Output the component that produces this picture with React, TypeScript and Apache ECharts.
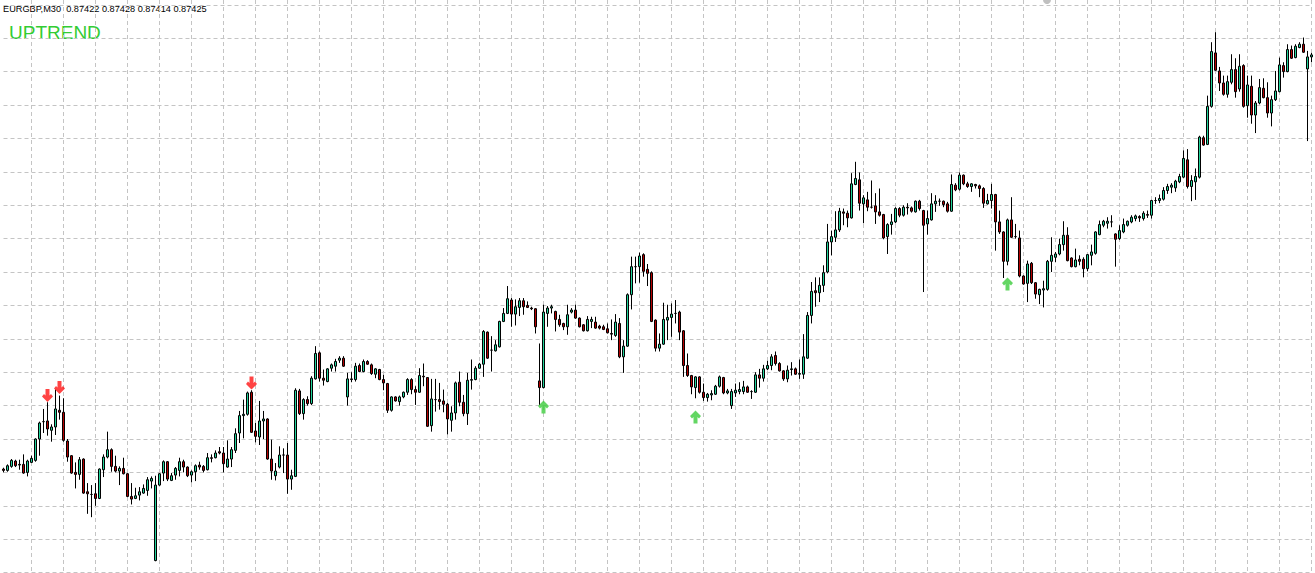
import React, { useEffect, useRef } from "react";
import * as echarts from "echarts";

// EURGBP M30 candles, prices in points (1 point = 0.00001)
const OPEN = [
  86805, 86803, 86809, 86817, 86812, 86812, 86800, 86815, 86818, 86850,
  86876, 86877, 86863, 86868, 86893, 86890, 86847, 86825, 86800, 86797,
  86820, 86771, 86767, 86768, 86761, 86804, 86823, 86834, 86809, 86802,
  86806, 86798, 86764, 86761, 86766, 86769, 86773, 86787, 86668, 86781,
  86799, 86816, 86788, 86796, 86803, 86816, 86808, 86796, 86801, 86811,
  86809, 86804, 86822, 86822, 86831, 86829, 86808, 86820, 86833, 86859,
  86885, 86887, 86920, 86862, 86853, 86877, 86880, 86820, 86795, 86808,
  86826, 86826, 86790, 86794, 86922, 86888, 86909, 86903, 86940, 86979,
  86941, 86936, 86956, 86959, 86968, 86971, 86913, 86940, 86939, 86960,
  86951, 86966, 86961, 86947, 86954, 86939, 86933, 86893, 86913, 86906,
  86913, 86920, 86939, 86924, 86920, 86944, 86942, 86870, 86909, 86909,
  86907, 86902, 86878, 86889, 86935, 86905, 86888, 86938, 86939, 86956,
  86962, 87010, 86983, 86982, 86988, 87026, 87038, 87058, 87037, 87047,
  87057, 87050, 87046, 87045, 86937, 86927, 87038, 87046, 87041, 87029,
  87023, 87018, 87040, 87043, 87031, 87021, 87012, 87026, 87025, 87019,
  87018, 87015, 87008, 87005, 87023, 86973, 86989, 87066, 87108, 87108,
  87126, 87104, 87099, 87028, 86986, 86992, 87028, 87032, 87038, 87040,
  87012, 86960, 86945, 86927, 86943, 86920, 86912, 86916, 86917, 86929,
  86942, 86919, 86900, 86919, 86921, 86921, 86928, 86921, 86920, 86946,
  86941, 86955, 86960, 86975, 86963, 86952, 86940, 86954, 86955, 86947,
  86947, 86971, 87035, 87072, 87069, 87080, 87100, 87145, 87152, 87163,
  87190, 87188, 87181, 87231, 87238, 87202, 87208, 87197, 87199, 87190,
  87186, 87153, 87171, 87175, 87195, 87185, 87197, 87196, 87190, 87206,
  87192, 87172, 87178, 87202, 87206, 87206, 87202, 87191, 87230, 87224,
  87245, 87232, 87228, 87231, 87229, 87225, 87202, 87207, 87216, 87175,
  87160, 87116, 87178, 87153, 87151, 87094, 87083, 87113, 87084, 87066,
  87073, 87074, 87116, 87122, 87127, 87141, 87155, 87121, 87108, 87119,
  87119, 87105, 87125, 87128, 87156, 87170, 87173, 87175, 87157, 87150,
  87160, 87170, 87175, 87180, 87183, 87180, 87186, 87185, 87207, 87207,
  87209, 87222, 87227, 87226, 87235, 87242, 87268, 87228, 87235, 87242,
  87301, 87291, 87348, 87428, 87401, 87383, 87366, 87384, 87403, 87374,
  87409, 87349, 87378, 87335, 87353, 87375, 87361, 87338, 87358, 87370,
  87409, 87400, 87433, 87421, 87436, 87441, 87404, 87422,
];
const CLOSE = [
  86803, 86810, 86818, 86810, 86811, 86799, 86817, 86821, 86850, 86874,
  86876, 86865, 86868, 86895, 86890, 86848, 86823, 86799, 86797, 86819,
  86769, 86768, 86767, 86761, 86805, 86823, 86834, 86809, 86802, 86806,
  86798, 86764, 86760, 86765, 86771, 86776, 86789, 86791, 86781, 86798,
  86816, 86790, 86795, 86806, 86816, 86808, 86795, 86801, 86810, 86808,
  86803, 86822, 86821, 86829, 86829, 86813, 86820, 86834, 86858, 86885,
  86887, 86919, 86860, 86854, 86877, 86880, 86820, 86802, 86802, 86826,
  86826, 86790, 86795, 86923, 86888, 86909, 86903, 86941, 86978, 86941,
  86938, 86955, 86961, 86966, 86971, 86959, 86940, 86939, 86959, 86951,
  86966, 86962, 86948, 86955, 86939, 86934, 86893, 86913, 86907, 86913,
  86920, 86939, 86924, 86920, 86945, 86943, 86869, 86910, 86909, 86906,
  86902, 86880, 86889, 86934, 86905, 86888, 86938, 86939, 86956, 86962,
  87011, 86971, 86983, 86991, 87026, 87038, 87060, 87037, 87048, 87057,
  87048, 87047, 87045, 87018, 86927, 87040, 87046, 87048, 87029, 87021,
  87018, 87036, 87043, 87031, 87018, 87012, 87029, 87029, 87016, 87016,
  87014, 87009, 87007, 87025, 86973, 86989, 87066, 87108, 87108, 87124,
  87101, 87098, 87026, 86986, 86992, 87029, 87032, 87037, 87038, 87010,
  86960, 86945, 86928, 86943, 86920, 86912, 86917, 86918, 86929, 86943,
  86919, 86922, 86921, 86923, 86924, 86928, 86920, 86921, 86946, 86941,
  86955, 86960, 86973, 86963, 86952, 86940, 86953, 86955, 86947, 86948,
  86973, 87035, 87071, 87069, 87080, 87099, 87145, 87153, 87163, 87191,
  87188, 87181, 87232, 87240, 87203, 87211, 87197, 87197, 87190, 87185,
  87151, 87171, 87175, 87195, 87185, 87197, 87196, 87191, 87206, 87195,
  87170, 87180, 87202, 87206, 87206, 87201, 87191, 87231, 87223, 87245,
  87232, 87228, 87232, 87229, 87225, 87203, 87207, 87216, 87175, 87160,
  87116, 87178, 87152, 87153, 87094, 87082, 87112, 87084, 87067, 87074,
  87075, 87116, 87125, 87127, 87141, 87155, 87117, 87108, 87118, 87116,
  87105, 87126, 87130, 87160, 87171, 87176, 87176, 87175, 87149, 87162,
  87171, 87176, 87182, 87184, 87181, 87188, 87185, 87207, 87207, 87210,
  87222, 87228, 87230, 87236, 87243, 87270, 87228, 87237, 87243, 87302,
  87290, 87348, 87430, 87402, 87383, 87366, 87385, 87403, 87370, 87408,
  87348, 87380, 87335, 87353, 87376, 87361, 87338, 87358, 87371, 87410,
  87400, 87433, 87420, 87438, 87441, 87429, 87422, 87425,
];
const LOW = [
  86800, 86801, 86807, 86808, 86804, 86798, 86794, 86814, 86816, 86825,
  86859, 86855, 86846, 86856, 86879, 86846, 86816, 86798, 86776, 86789,
  86768, 86738, 86733, 86750, 86760, 86793, 86821, 86801, 86800, 86781,
  86797, 86763, 86752, 86760, 86758, 86768, 86765, 86776, 86667, 86780,
  86787, 86787, 86787, 86789, 86794, 86800, 86793, 86785, 86787, 86804,
  86800, 86803, 86815, 86821, 86827, 86800, 86807, 86808, 86829, 86844,
  86851, 86885, 86859, 86845, 86841, 86850, 86819, 86789, 86788, 86806,
  86799, 86768, 86774, 86793, 86886, 86879, 86900, 86901, 86939, 86936,
  86930, 86935, 86951, 86951, 86964, 86958, 86900, 86935, 86936, 86950,
  86950, 86961, 86946, 86941, 86938, 86923, 86889, 86891, 86906, 86900,
  86911, 86916, 86917, 86901, 86919, 86929, 86868, 86861, 86891, 86894,
  86890, 86857, 86861, 86879, 86899, 86884, 86871, 86924, 86938, 86955,
  86943, 86970, 86951, 86981, 86987, 87025, 87037, 87018, 87020, 87034,
  87036, 87046, 87043, 87008, 86901, 86926, 87018, 87038, 87011, 87018,
  87013, 87006, 87038, 87030, 87017, 87011, 87011, 87016, 87015, 87014,
  87013, 87008, 86998, 87003, 86971, 86949, 86988, 87044, 87083, 87084,
  87093, 87079, 87025, 86981, 86981, 86991, 86998, 87003, 87023, 86998,
  86943, 86943, 86917, 86911, 86918, 86907, 86906, 86908, 86916, 86927,
  86917, 86917, 86895, 86913, 86917, 86917, 86919, 86910, 86919, 86927,
  86936, 86953, 86953, 86960, 86951, 86937, 86935, 86945, 86946, 86940,
  86940, 86970, 87023, 87048, 87055, 87070, 87098, 87125, 87145, 87160,
  87170, 87167, 87180, 87230, 87192, 87173, 87191, 87195, 87172, 87183,
  87149, 87127, 87156, 87173, 87182, 87183, 87186, 87189, 87189, 87192,
  87070, 87156, 87177, 87190, 87199, 87197, 87189, 87190, 87221, 87222,
  87230, 87226, 87220, 87225, 87212, 87196, 87201, 87195, 87132, 87157,
  87091, 87110, 87151, 87150, 87092, 87081, 87055, 87082, 87060, 87052,
  87047, 87072, 87100, 87115, 87125, 87132, 87116, 87107, 87107, 87110,
  87092, 87101, 87110, 87126, 87155, 87167, 87165, 87167, 87108, 87148,
  87158, 87168, 87173, 87176, 87175, 87177, 87181, 87180, 87202, 87203,
  87207, 87217, 87218, 87220, 87233, 87241, 87225, 87206, 87208, 87240,
  87289, 87290, 87346, 87401, 87371, 87364, 87361, 87381, 87361, 87370,
  87346, 87331, 87322, 87308, 87351, 87360, 87331, 87318, 87356, 87369,
  87391, 87399, 87419, 87420, 87435, 87428, 87296, 87414,
];
const HIGH = [
  86807, 86812, 86820, 86819, 86819, 86827, 86819, 86825, 86851, 86876,
  86895, 86905, 86872, 86924, 86915, 86911, 86850, 86826, 86815, 86823,
  86821, 86784, 86781, 86784, 86806, 86827, 86861, 86836, 86825, 86809,
  86822, 86799, 86784, 86777, 86778, 86782, 86793, 86794, 86795, 86799,
  86818, 86817, 86799, 86808, 86822, 86819, 86809, 86803, 86812, 86816,
  86811, 86829, 86827, 86833, 86838, 86838, 86848, 86838, 86866, 86892,
  86909, 86921, 86923, 86874, 86907, 86892, 86881, 86849, 86814, 86839,
  86836, 86844, 86804, 86926, 86925, 86911, 86914, 86944, 86989, 86981,
  86954, 86956, 86963, 86970, 86974, 86974, 86949, 86950, 86964, 86963,
  86969, 86968, 86963, 86956, 86955, 86946, 86934, 86914, 86914, 86915,
  86921, 86941, 86941, 86929, 86956, 86963, 86942, 86940, 86940, 86934,
  86924, 86904, 86899, 86936, 86951, 86916, 86949, 86969, 86959, 86964,
  87013, 87011, 87004, 86998, 87027, 87046, 87079, 87061, 87059, 87061,
  87061, 87056, 87048, 87046, 86993, 87051, 87049, 87051, 87042, 87036,
  87024, 87051, 87046, 87051, 87032, 87022, 87034, 87033, 87033, 87021,
  87021, 87023, 87029, 87037, 87031, 86998, 87068, 87123, 87123, 87129,
  87128, 87112, 87101, 87029, 87008, 87054, 87051, 87053, 87058, 87042,
  87013, 86978, 86946, 86944, 86944, 86933, 86919, 86923, 86931, 86945,
  86943, 86925, 86925, 86933, 86935, 86937, 86930, 86923, 86950, 86955,
  86961, 86967, 86977, 86981, 86965, 86953, 86960, 86965, 86957, 86969,
  87007, 87040, 87085, 87092, 87092, 87110, 87172, 87162, 87191, 87196,
  87195, 87192, 87248, 87265, 87249, 87215, 87220, 87237, 87218, 87225,
  87187, 87173, 87187, 87197, 87197, 87200, 87203, 87198, 87207, 87208,
  87193, 87192, 87218, 87215, 87210, 87207, 87205, 87246, 87233, 87249,
  87246, 87235, 87233, 87232, 87231, 87227, 87217, 87232, 87217, 87192,
  87161, 87180, 87212, 87172, 87162, 87095, 87117, 87115, 87085, 87075,
  87087, 87118, 87152, 87130, 87150, 87176, 87167, 87122, 87135, 87125,
  87122, 87127, 87141, 87161, 87177, 87178, 87182, 87185, 87158, 87170,
  87180, 87177, 87185, 87186, 87185, 87191, 87192, 87208, 87212, 87216,
  87227, 87232, 87233, 87238, 87247, 87282, 87284, 87245, 87255, 87304,
  87304, 87364, 87444, 87459, 87407, 87394, 87394, 87426, 87420, 87426,
  87411, 87394, 87394, 87356, 87389, 87390, 87384, 87364, 87401, 87421,
  87414, 87441, 87439, 87441, 87444, 87451, 87431, 87428,
];

// signal arrows: [candle index, price in points]
const SELL_ARROWS = [[11, 86915], [14, 86927], [62, 86934]];
const BUY_ARROWS = [[135, 86898], [173, 86883], [251, 87082]];

const SYMBOL_LABEL = "EURGBP,M30";
const LAST_BAR = ["0.87422", "0.87428", "0.87414", "0.87425"];
const TREND_LABEL = "UPTREND";

const DOWN_ARROW =
  "path://M3.5 0 L7.5 0 L7.5 6.5 L9 5 L11 7.5 L5.5 13 L0 7.5 L2 5 L3.5 6.5 Z";
const UP_ARROW =
  "path://M5.5 0 L11 5.5 L9 8 L7.5 6.5 L7.5 13 L3.5 13 L3.5 6.5 L2 8 L0 5.5 Z";

export default function App() {
  const ref = useRef<HTMLDivElement>(null);
  useEffect(() => {
    if (!ref.current) return;
    const chart = echarts.init(ref.current, undefined, { renderer: "svg" });
    const cats = OPEN.map((_, i) => String(i));
    const candles = OPEN.map((o, i) => [o, CLOSE[i], LOW[i], HIGH[i]]);
    const gridLine = { color: "#c4c4c4", type: [4, 3] as number[], width: 1 };
    chart.setOption({
      animation: false,
      backgroundColor: "#ffffff",
      grid: { left: 3.5, top: 0, width: 1308, height: 572.6, containLabel: false },
      xAxis: {
        type: "category",
        data: cats,
        boundaryGap: false,
        axisLine: { show: false },
        axisTick: { show: false },
        axisLabel: { show: false },
        splitLine: {
          show: true,
          interval: (idx: number) => idx % 8 === 7,
          lineStyle: gridLine,
        },
      },
      yAxis: {
        type: "value",
        min: 86650,
        max: 87507.2,
        interval: 50,
        axisLine: { show: false },
        axisTick: { show: false },
        axisLabel: { show: false },
        splitLine: { show: true, showMaxLine: false, lineStyle: gridLine },
      },
      series: [
        {
          type: "candlestick",
          data: candles,
          barWidth: 2,
          clip: false,
          itemStyle: {
            color: "#20d49a",
            color0: "#b40000",
            borderColor: "#000000",
            borderColor0: "#000000",
            borderWidth: 1,
          },
        },
        {
          type: "scatter",
          data: SELL_ARROWS,
          symbol: DOWN_ARROW,
          symbolSize: [11, 13],
          itemStyle: { color: "#ff1414" },
          z: 5,
        },
        {
          type: "scatter",
          data: BUY_ARROWS,
          symbol: UP_ARROW,
          symbolSize: [11, 13],
          itemStyle: { color: "#3ccc3c" },
          z: 5,
        },
      ],
      graphic: [
        {
          type: "text",
          left: 3,
          top: 4,
          style: {
            text: SYMBOL_LABEL + "\u00a0\u00a0" + LAST_BAR.join(" "),
            fill: "#000000",
            font: "9.2px 'Liberation Sans', Arial, sans-serif",
          },
        },
        {
          type: "text",
          left: 9,
          top: 23,
          style: {
            text: TREND_LABEL,
            fill: "#33cc33",
            font: "19px 'Liberation Sans', Arial, sans-serif",
          },
        },
        {
          type: "circle",
          shape: { cx: 1047, cy: 0, r: 4 },
          style: { fill: "#c0c0c0" },
        },
      ],
    });
    return () => chart.dispose();
  }, []);
  return (
    <div
      ref={ref}
      style={{ position: "absolute", left: 0, top: 0, width: 1315, height: 573, background: "#ffffff" }}
    />
  );
}
